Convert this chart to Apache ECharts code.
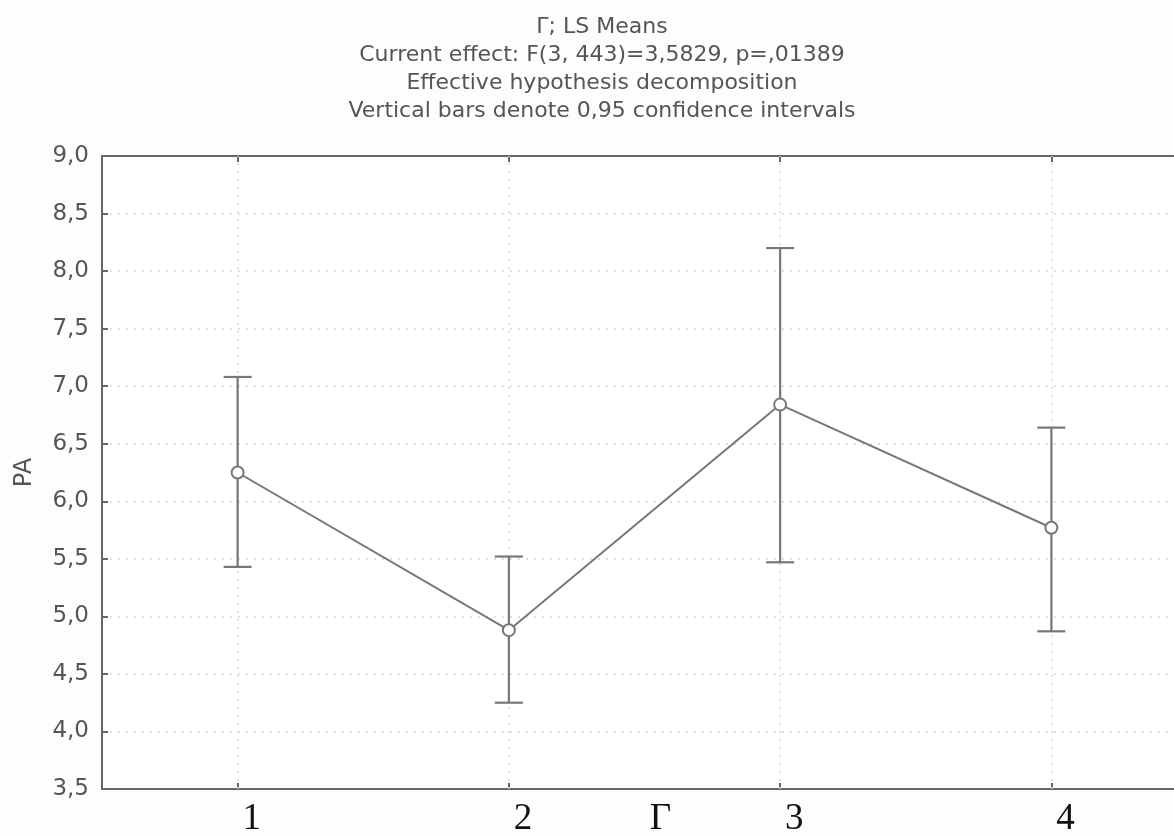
<!DOCTYPE html>
<html>
<head>
<meta charset="utf-8">
<script src="https://cdn.jsdelivr.net/npm/echarts@6/dist/echarts.min.js"></script>
<style>html,body{margin:0;padding:0;background:#fdfdfd;}#c{width:1174px;height:836px;}</style>
</head>
<body>
<div id="c"></div>
<script>
const titleLines = [
  'Γ; LS Means',
  'Current effect: F(3, 443)=3,5829, p=,01389',
  'Effective hypothesis decomposition',
  'Vertical bars denote 0,95 confidence intervals'
];
const xAxisTitle = 'Γ';
const yAxisTitle = 'PA';
const categories = ['1', '2', '3', '4'];
const means = [6.25, 4.88, 6.84, 5.77];
const lowerCI = [5.43, 4.25, 5.47, 4.87];
const upperCI = [7.08, 5.52, 8.20, 6.64];
const yTickLabels = ['3,5','4,0','4,5','5,0','5,5','6,0','6,5','7,0','7,5','8,0','8,5','9,0'];
const yMin = 3.5, yMax = 9.0, yStep = 0.5;

const chart = echarts.init(document.getElementById('c'), null, {renderer: 'canvas'});
const frameColor = '#666';
const markColor = '#777';

const errData = categories.map((c, i) => [i, lowerCI[i], upperCI[i]]);

const option = {
  backgroundColor: '#fdfdfd',
  animation: false,
  title: {
    text: titleLines.join('\n'),
    left: 602,
    top: 13,
    padding: 0,
    textAlign: 'center',
    textStyle: {
      fontFamily: 'DejaVu Sans',
      fontSize: 22,
      fontWeight: 'normal',
      color: '#555',
      lineHeight: 28
    }
  },
  grid: {
    left: 102, top: 156, bottom: 47, right: -13,
    show: true, borderColor: frameColor, borderWidth: 2,
    backgroundColor: '#ffffff',
    outerBoundsMode: 'none',
    containLabel: false
  },
  xAxis: [{
    type: 'category',
    data: categories,
    boundaryGap: true,
    position: 'bottom',
    name: xAxisTitle,
    nameLocation: 'middle',
    nameGap: 12,
    nameMoveOverlap: false,
    nameTextStyle: {
      fontFamily: 'Liberation Serif', fontSize: 37, color: '#111',
      verticalAlign: 'top', padding: [0, 0, 0, 32]
    },
    axisLine: {show: true, lineStyle: {color: frameColor, width: 2}},
    axisTick: {show: true, inside: true, alignWithLabel: true, length: 6, lineStyle: {color: frameColor, width: 2}},
    axisLabel: {
      margin: 12,
      fontFamily: 'Liberation Serif', fontSize: 37, color: '#111',
      padding: [0, 0, 0, 28]
    },
    splitLine: {show: false}
  }, {
    type: 'category',
    data: categories,
    boundaryGap: true,
    position: 'top',
    axisLine: {show: true, lineStyle: {color: frameColor, width: 2}},
    axisTick: {show: true, inside: true, alignWithLabel: true, length: 6, lineStyle: {color: frameColor, width: 2}},
    axisLabel: {show: false},
    splitLine: {show: false}
  }],
  yAxis: {
    type: 'value',
    min: yMin, max: yMax, interval: yStep,
    name: yAxisTitle,
    nameLocation: 'middle',
    nameGap: 65,
    nameMoveOverlap: false,
    nameTextStyle: {fontFamily: 'DejaVu Sans', fontSize: 24, color: '#555'},
    axisLine: {show: true, lineStyle: {color: frameColor, width: 2}},
    axisTick: {show: true, inside: true, length: 6, lineStyle: {color: frameColor, width: 2}},
    axisLabel: {
      margin: 13,
      fontFamily: 'DejaVu Sans', fontSize: 23, color: '#555',
      formatter: function (v) {
        const idx = Math.round((v - yMin) / yStep);
        return yTickLabels[idx] !== undefined ? yTickLabels[idx] : '';
      }
    },
    splitLine: {show: true, lineStyle: {color: '#d4d4d4', width: 1.5, type: [2, 6]}}
  },
  series: [{
    type: 'custom',
    name: 'CI',
    xAxisIndex: 0,
    data: errData,
    z: 3,
    renderItem: function (params, api) {
      const x = api.value(0);
      const lo = api.coord([x, api.value(1)]);
      const hi = api.coord([x, api.value(2)]);
      const hw = 14;
      const style = {stroke: markColor, lineWidth: 2.2, fill: null};
      return {
        type: 'group',
        children: [
          {type: 'line', shape: {x1: lo[0], y1: lo[1], x2: hi[0], y2: hi[1]}, style: style},
          {type: 'line', shape: {x1: lo[0] - hw, y1: lo[1], x2: lo[0] + hw, y2: lo[1]}, style: style},
          {type: 'line', shape: {x1: hi[0] - hw, y1: hi[1], x2: hi[0] + hw, y2: hi[1]}, style: style}
        ]
      };
    }
  }, {
    type: 'line',
    name: 'mean',
    xAxisIndex: 0,
    data: means,
    z: 4,
    symbol: 'circle',
    symbolSize: 12,
    lineStyle: {color: markColor, width: 2},
    itemStyle: {color: '#ffffff', borderColor: markColor, borderWidth: 2},
    markLine: {
      silent: true,
      symbol: ['none', 'none'],
      label: {show: false},
      lineStyle: {color: '#d4d4d4', width: 1.5, type: [2, 6]},
      z: 1,
      data: categories.map(c => ({xAxis: c}))
    }
  }]
};
chart.setOption(option);
</script>
</body>
</html>
